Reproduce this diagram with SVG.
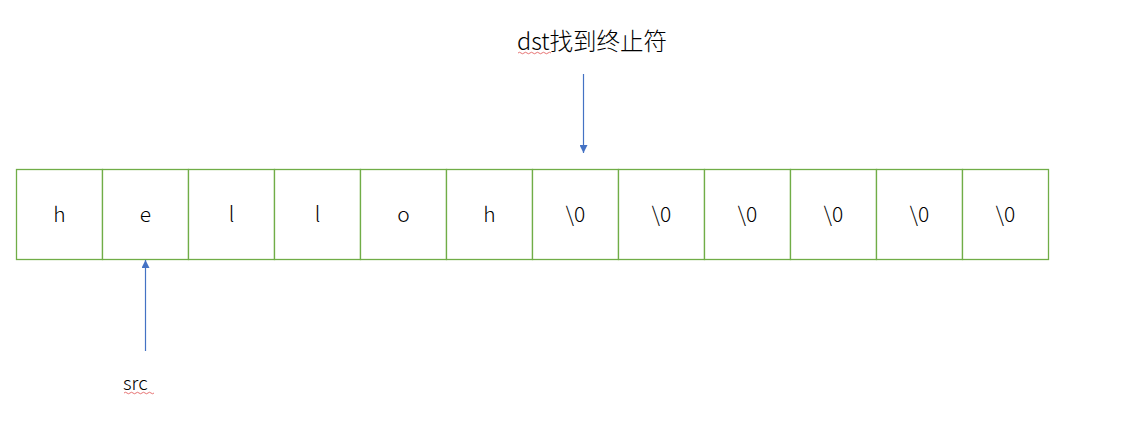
<svg xmlns="http://www.w3.org/2000/svg" width="1123" height="445" viewBox="0 0 1123 445">
<style>
.cell{fill:#fff;stroke:#70AD47;stroke-width:1.3}
.t{font-family:"Noto Sans CJK SC","Liberation Sans",sans-serif;font-size:21px;font-weight:300;fill:#000;text-anchor:middle}
.lbl{font-family:"Noto Sans CJK SC","Liberation Sans",sans-serif;font-weight:300;fill:#000}
.conn{stroke:#4472C4;stroke-width:1.2;fill:none}
.sq{stroke:#E05050;stroke-width:0.8;fill:none}
</style>
<defs>
<marker id="ah" viewBox="0 0 10 10" refX="10" refY="5" markerWidth="8" markerHeight="8" markerUnits="userSpaceOnUse" orient="auto">
<path d="M0,0 L10,5 L0,10 z" fill="#4472C4"/>
</marker>
</defs>
<g id="cells">
<g id="c0"><rect class="cell" x="16.5" y="169.5" width="86" height="90"/><text class="t" x="59.5" y="222">h</text></g>
<g id="c1"><rect class="cell" x="102.5" y="169.5" width="86" height="90"/><text class="t" x="145.5" y="222">e</text></g>
<g id="c2"><rect class="cell" x="188.5" y="169.5" width="86" height="90"/><text class="t" x="231.5" y="222">l</text></g>
<g id="c3"><rect class="cell" x="274.5" y="169.5" width="86" height="90"/><text class="t" x="317.5" y="222">l</text></g>
<g id="c4"><rect class="cell" x="360.5" y="169.5" width="86" height="90"/><text class="t" x="403.5" y="222">o</text></g>
<g id="c5"><rect class="cell" x="446.5" y="169.5" width="86" height="90"/><text class="t" x="489.5" y="222">h</text></g>
<g id="c6"><rect class="cell" x="532.5" y="169.5" width="86" height="90"/><text class="t" x="575.5" y="222">\0</text></g>
<g id="c7"><rect class="cell" x="618.5" y="169.5" width="86" height="90"/><text class="t" x="661.5" y="222">\0</text></g>
<g id="c8"><rect class="cell" x="704.5" y="169.5" width="86" height="90"/><text class="t" x="747.5" y="222">\0</text></g>
<g id="c9"><rect class="cell" x="790.5" y="169.5" width="86" height="90"/><text class="t" x="833.5" y="222">\0</text></g>
<g id="c10"><rect class="cell" x="876.5" y="169.5" width="86" height="90"/><text class="t" x="919.5" y="222">\0</text></g>
<g id="c11"><rect class="cell" x="962.5" y="169.5" width="86" height="90"/><text class="t" x="1005.5" y="222">\0</text></g>
</g>
<g id="dst-label">
<text class="lbl" x="517" y="50" font-size="23.5">dst找到终止符</text>
<path class="sq" d="M518,53 q1.5,-1.5 3,0 t3,0 t3,0 t3,0 t3,0 t3,0 t3,0 t3,0 t3,0 t3,0 t3,0"/>
</g>
<g id="src-label">
<text class="lbl" x="123" y="390" font-size="19">src</text>
<path class="sq" d="M124,393 q1.5,-1.5 3,0 t3,0 t3,0 t3,0 t3,0 t3,0 t3,0 t3,0 t3,0 t3,0"/>
</g>
<g id="connectors">
<line class="conn" x1="583.5" y1="74" x2="583.5" y2="153" marker-end="url(#ah)"/>
<line class="conn" x1="145.5" y1="351" x2="145.5" y2="260" marker-end="url(#ah)"/>
</g>
</svg>
